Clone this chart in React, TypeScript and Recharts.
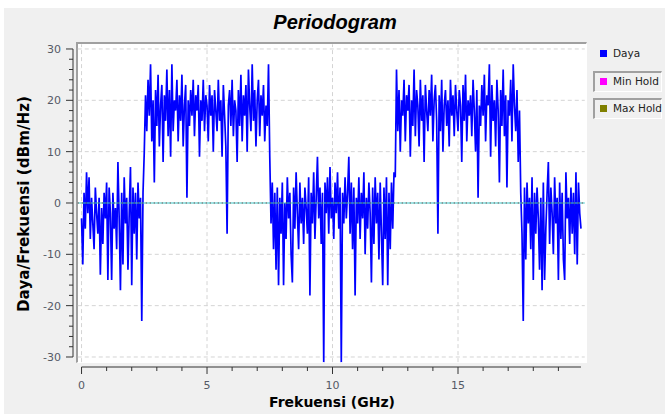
import React from 'react';
import { LineChart, Line, XAxis, YAxis, ReferenceLine } from 'recharts';

// frequency grid (GHz)
const freqStart = 0;
const freqStep = 0.05;

// power spectral density values (dBm/Hz)
const band1Low = [
  -3, -12, 2, -5, 6, -2, 5, -7, 1, -4,
  -9, 3, -2, -6, 1, -14, -1, -8, 2, -3,
  4, -15, 3, -2, -15, 2, -5, -1, -9, 8,
  -3, -17, 2, -12, 5, -4, 1, -13, -2, 7,
  -16, 3, -6, 2, -11, 4, -3, 1, -23, 2,
];
const band1High = [
  10, 21, 14, 24, 17, 27, 12, 20, 4, 22,
  15, 25, 11, 19, 23, 8, 21, 16, 26, 13,
  22, 9, 27, 14, 20, 18, 24, 12, 21, 16,
  25, 11, 19, 23, 1, 20, 15, 22, 17, 24,
  13, 21, 18, 23, 9, 20, 16, 24, 14, 21,
  19, 12, 23, 17, 21, 10, 22, 18, 14, 24,
  16, 20, 9, 23, 17, 11, -6, 19, 22, 15,
  24, 13, 20, 18, 8, 22, 15, 25, 12, 21,
  17, 23, 10, 26, 19, 14, 27, 16, 22, 11,
  20, 24, 13, 21, 17, 23, 12, 19, 15, 27,
];
const band2Low = [
  9, -4, 4, -9, 2, -13, 3, -16, 1, -6,
  4, -16, 0, -7, 5, -3, 2, -10, -15.5, 3,
  -5, 6, -2, -9, 4, -4, 1, -8, 3, -1,
  -6, 5, -18, 2, -4, 6, -7, 1, 9, -3,
  3, -8, 2, -31, 4, -2, 5, -6, 7, -3,
  1, -7, 4, -2, 6, -5, 3, -31, 2, -4,
  5, -3, 2, 9, -6, 4, -9, 3, -18, 1,
  -4, 5, -7, 2, -3, 6, -10, 1, -5, 4,
  -2, -15.5, 3, -8, 5, -4, 2, -11, 4, -6,
  -16, 3, -7, 5, -16, 2, -9, 4, -5, 6,
];
const band2High = [
  5, 26, 14, 22, 10, 20, 17, 24, 12, 21,
  18, 23, 9, 20, 15, 26, 13, 22, 19, 11,
  24, 16, 21, 8, 23, 18, 14, 22, 17, 25,
  12, 20, 23, 16, -6, 21, 14, 24, 10, 19,
  22, 15, 20, 11, 24, 17, 21, 13, 23, 18,
  14, 22, 19, 8, 23, 16, 25, 12, 20, 17,
  21, 13, 24, 18, 10, 22, 1, 19, 15, 23,
  17, 25, 12, 21, 19, 27, 9, 23, 16, 20,
  11, 24, 18, 4, 22, 15, 26, 13, 21, 3,
  20, 17, 24, 12, 27, 19, 14, 22, 8, 18,
];
const band3Low = [
  2, -6, -23, 3, -11, 4, -4, 1, -9, 5,
  -15, 2, -6, 3, -3, -13, 1, -17, 4, -15,
  -5, 2, 8, -8, 3, -2, -10, 5, -4, 1,
  -15, 4, -7, 2, -11, -15, 6, -3, 1, -8,
  3, -6, 2, -10, 6, -12, 4, -2, -5,
];

const power = [...band1Low, ...band1High, ...band2Low, ...band2High, ...band3Low];
const data = power.map((p, i) => ({ f: Math.round((freqStart + i * freqStep) * 100) / 100, p }));

// axis ticks
const xTicks = [0, 1, 2, 3, 4, 5, 6, 7, 8, 9, 10, 11, 12, 13, 14, 15, 16, 17, 18, 19];
const xTickLabels = [0, 5, 10, 15];
const yTicks = [-30, -28, -26, -24, -22, -20, -18, -16, -14, -12, -10, -8, -6, -4, -2, 0, 2, 4, 6, 8, 10, 12, 14, 16, 18, 20, 22, 24, 26, 28, 30];
const yTickLabels = [-30, -20, -10, 0, 10, 20, 30];
const xGrid = [0, 5, 10, 15];
const yGrid = [-30, -20, -10, 10, 20, 30];

const legendItems = [
  { name: 'Daya', color: '#0000ff', boxed: false },
  { name: 'Min Hold', color: '#ff00ff', boxed: true },
  { name: 'Max Hold', color: '#808000', boxed: true },
];

const X_DOMAIN: [number, number] = [-0.34, 20.1];
const Y_DOMAIN: [number, number] = [-31.95, 30.97];
const FONT = "'DejaVu Sans', Verdana, sans-serif";

const YTick = (props: any) => {
  const { x, y, payload } = props;
  const v = payload.value;
  const major = yTickLabels.includes(v);
  return (
    <g>
      <line x1={x - (major ? 7 : 4)} x2={x} y1={y} y2={y} stroke="#333" strokeWidth={1} />
      {major && (
        <text x={x - 12} y={y + 4} textAnchor="end" fontSize={11} fontFamily={FONT} fill="#555a66">
          {v}
        </text>
      )}
    </g>
  );
};

const XTick = (props: any) => {
  const { x, y, payload } = props;
  const v = payload.value;
  const major = xTickLabels.includes(v);
  return (
    <g>
      <line x1={x} x2={x} y1={y} y2={y + (major ? 7 : 4)} stroke="#333" strokeWidth={1} />
      {major && (
        <text x={x} y={y + 22} textAnchor="middle" fontSize={11} fontFamily={FONT} fill="#555a66">
          {v}
        </text>
      )}
    </g>
  );
};

export default function App() {
  return (
    <div style={{ position: 'absolute', left: 0, top: 0, width: 665, height: 414, background: '#fff', overflow: 'hidden' }}>
      <div style={{ position: 'absolute', left: 4, top: 8, right: 0, bottom: 0, background: '#f0f0f0' }} />
      <div
        style={{
          position: 'absolute', left: 76, top: 42, width: 511, height: 321, background: '#fff',
          borderTop: '2px solid #a0a0a0', borderLeft: '2px solid #a0a0a0',
          borderRight: '1px solid #ffffff', borderBottom: '1px solid #ffffff', boxSizing: 'border-box',
        }}
      />
      <div style={{ position: 'absolute', left: 0, top: 0 }}>
        <LineChart width={665} height={414} data={data} margin={{ top: 44, right: 79, bottom: 17, left: 13 }}>
          <XAxis
            type="number" dataKey="f" domain={X_DOMAIN} allowDataOverflow ticks={xTicks} interval={0}
            tick={<XTick />} tickSize={0} tickMargin={0} axisLine={false} tickLine={false} height={30}
          />
          <YAxis
            type="number" domain={Y_DOMAIN} allowDataOverflow ticks={yTicks} interval={0}
            tick={<YTick />} tickSize={0} tickMargin={0} axisLine={false} tickLine={false} width={60}
          />
          {xGrid.map((g) => (
            <ReferenceLine key={'gx' + g} segment={[{ x: g, y: -31 }, { x: g, y: 30.9 }]} stroke="#d4d4d4" strokeDasharray="4 3" ifOverflow="visible" />
          ))}
          {yGrid.map((g) => (
            <ReferenceLine key={'gy' + g} segment={[{ x: -0.15, y: g }, { x: 20.05, y: g }]} stroke="#d4d4d4" strokeDasharray="4 3" ifOverflow="visible" />
          ))}
          <ReferenceLine segment={[{ x: -0.34, y: -30 }, { x: -0.34, y: 30 }]} stroke="#333" ifOverflow="visible" />
          <ReferenceLine segment={[{ x: 0, y: -31.95 }, { x: 19.9, y: -31.95 }]} stroke="#333" ifOverflow="visible" />
          <Line type="linear" dataKey="p" stroke="#0000ff" strokeWidth={1.7} strokeLinejoin="miter" strokeMiterlimit={2} dot={false} isAnimationActive={false} />
          <ReferenceLine segment={[{ x: -0.15, y: 0 }, { x: 20.05, y: 0 }]} stroke="#3cc8c8" strokeWidth={1.2} ifOverflow="visible" />
          <ReferenceLine segment={[{ x: -0.15, y: 0 }, { x: 20.05, y: 0 }]} stroke="#6a2a2a" strokeWidth={1} strokeDasharray="1 3" ifOverflow="visible" />
        </LineChart>
      </div>
      <svg width={665} height={414} style={{ position: 'absolute', left: 0, top: 0, pointerEvents: 'none' }}>
        <text x={335} y={29} textAnchor="middle" fontFamily="'Liberation Sans', Arial, sans-serif" fontWeight="bold" fontStyle="italic" fontSize={20} fill="#000">
          Periodogram
        </text>
        <text x={332} y={407} textAnchor="middle" fontFamily={FONT} fontWeight="bold" fontSize={14} fill="#000">
          Frekuensi (GHz)
        </text>
        <text transform="translate(29,204) rotate(-90)" textAnchor="middle" fontFamily={FONT} fontWeight="bold" fontSize={15} fill="#000" textLength={216} lengthAdjust="spacingAndGlyphs">
          Daya/Frekuensi (dBm/Hz)
        </text>
      </svg>
      {legendItems.map((it, i) => (
        <div
          key={it.name}
          style={{
            position: 'absolute', left: 593, top: 43 + i * 27.5, width: 69, height: 21, boxSizing: 'border-box',
            borderTop: it.boxed ? '2px solid #a0a0a0' : 'none', borderLeft: it.boxed ? '2px solid #a0a0a0' : 'none',
            borderRight: it.boxed ? '1px solid #ffffff' : 'none', borderBottom: it.boxed ? '1px solid #ffffff' : 'none',
          }}
        >
          <div style={{ position: 'absolute', left: 7 - (it.boxed ? 2 : 0), top: 7 - (it.boxed ? 2 : 0), width: 7, height: 7, background: it.color }} />
          <div
            style={{
              position: 'absolute', left: 20 - (it.boxed ? 2 : 0), top: 3 - (it.boxed ? 2 : 0), fontFamily: FONT, fontSize: 10.5,
              lineHeight: '14px', color: '#222', whiteSpace: 'nowrap',
            }}
          >
            {it.name}
          </div>
        </div>
      ))}
    </div>
  );
}
